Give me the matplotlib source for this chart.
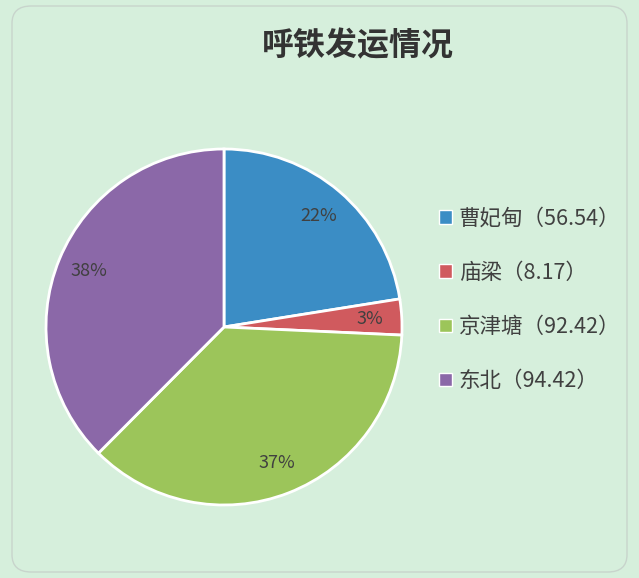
import matplotlib
matplotlib.use("Agg")
import matplotlib.pyplot as plt
from matplotlib.patches import FancyBboxPatch, Patch

plt.rcParams['font.family'] = ['Noto Sans CJK SC', 'DejaVu Sans']

categories = ['曹妃甸', '庙梁', '京津塘', '东北']
values = [56.54, 8.17, 92.42, 94.42]
value_labels = ['56.54', '8.17', '92.42', '94.42']
colors = ['#3b8dc5', '#d05a5e', '#9cc55a', '#8b68a8']
title = '呼铁发运情况'

bg = '#d6efdc'
fig = plt.figure(figsize=(6.39, 5.78), dpi=100, facecolor=bg)

border = FancyBboxPatch((12/639, 6/578), 1 - 24/639, 1 - 12/578,
                        boxstyle="round,pad=0,rounding_size=0.03",
                        transform=fig.transFigure, facecolor='none',
                        edgecolor='#c8d4cc', linewidth=1.0)
fig.patches.append(border)

fig.text(358/639, 1 - 46/578, title, ha='center', va='center',
         fontsize=23, fontweight='bold', color='#333333')

cx, cy, r = 224, 327, 178
ax = fig.add_axes([(cx - r)/639, 1 - (cy + r)/578, 2*r/639, 2*r/578])
ax.set_facecolor(bg)
wedges, texts, autotexts = ax.pie(values, colors=colors, startangle=90, counterclock=False,
                                  autopct=lambda p: f'{p:.0f}%', pctdistance=0.82,
                                  wedgeprops=dict(edgecolor='white', linewidth=2),
                                  textprops=dict(color='#404040', fontsize=13))
ax.set_aspect('auto')
ax.set_xlim(-1, 1)
ax.set_ylim(-1, 1)
ax.axis('off')

handles = [Patch(facecolor=c, edgecolor='white', linewidth=1) for c in colors]
labels = [f'{c}（{v}）' for c, v in zip(categories, value_labels)]
fig.legend(handles, labels, loc='upper left', bbox_to_anchor=(420/639, 1 - 188/578),
           frameon=False, fontsize=15.5, labelspacing=1.5, handlelength=0.6,
           handleheight=0.6, handletextpad=0.3, labelcolor='#404040')

fig.savefig('out.png', dpi=100, facecolor=bg)
